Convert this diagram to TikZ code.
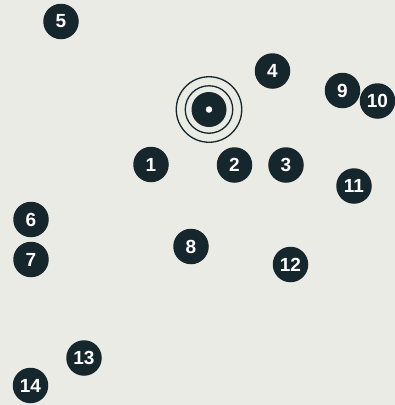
\documentclass[tikz,border=0pt]{standalone}
\usepackage{fontspec}
\setmainfont{Liberation Sans}
\definecolor{ink}{HTML}{16262D}
\definecolor{bg}{HTML}{EBEBE6}
\begin{document}
\begin{tikzpicture}[x=1pt,y=-1pt,
  num/.style={circle,fill=ink,text=white,minimum size=35.5pt,inner sep=0pt,font=\bfseries\fontsize{19}{19}\selectfont}]
\fill[bg] (0,0) rectangle (395,405);
\useasboundingbox (0,0) rectangle (395,405);
\node[num] (n1) at (151,164.5) {1};
\node[num] (n2) at (234.5,165) {2};
\node[num] (n3) at (286,165) {3};
\node[num] (n4) at (272.5,71) {4};
\node[num] (n5) at (61,21.5) {5};
\node[num] (n6) at (31,219.5) {6};
\node[num] (n7) at (31,259.5) {7};
\node[num] (n8) at (191,246.5) {8};
\node[num] (n9) at (342.5,90.5) {9};
\node[num] (n10) at (377.5,101) {10};
\node[num] (n11) at (354,186) {11};
\node[num] (n12) at (290.5,264.5) {12};
\node[num] (n13) at (84,358) {13};
\node[num] (n14) at (30.5,385.5) {14};
\node[circle,draw=ink,line width=1.3pt,minimum size=65.5pt,inner sep=0pt] (ringA) at (209,109.5) {};
\node[circle,draw=ink,line width=1.3pt,minimum size=47.5pt,inner sep=0pt] (ringB) at (209,109.5) {};
\node[circle,fill=ink,minimum size=35pt,inner sep=0pt] (core) at (209,109.5) {};
\node[circle,fill=white,minimum size=6.5pt,inner sep=0pt] (dot) at (209,109.5) {};
\end{tikzpicture}
\end{document}
